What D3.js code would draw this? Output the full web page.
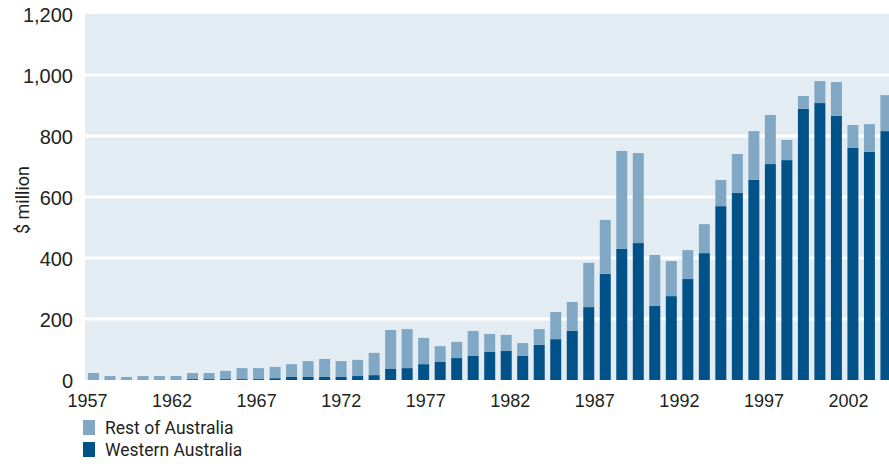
<!DOCTYPE html>
<html>
<head>
<meta charset="utf-8">
<script src="https://cdn.jsdelivr.net/npm/d3@7"></script>
<style>
  body { margin: 0; background: #fff; }
  svg { display: block; font-family: Roboto, "Liberation Sans", sans-serif; }
</style>
</head>
<body>
<svg id="chart" width="889" height="464"></svg>
<script>
// years on the x axis
var years = d3.range(1957, 2006);
var tickYears = [1957, 1962, 1967, 1972, 1977, 1982, 1987, 1992, 1997, 2002];
var yTicks = [0, 200, 400, 600, 800, 1000, 1200];

// $ million
var westernAustralia = [0, 0, 0, 0, 0, 0, 3, 3, 3, 3, 3, 6, 10, 10, 10, 10, 13, 16,
  36, 39, 52, 59, 72, 79, 92, 95, 79, 115, 134, 161, 239, 348, 430,
  449, 243, 275, 331, 416, 570, 613, 656, 708, 721, 889, 908, 866, 761, 748, 816];
var restOfAustralia = [23, 13, 10, 13, 13, 13, 20, 20, 27, 36, 36, 37, 42, 52, 59, 52, 53, 73,
  128, 128, 86, 52, 53, 82, 59, 53, 42, 52, 89, 95, 145, 177, 321,
  295, 167, 115, 95, 95, 86, 128, 160, 161, 66, 42, 72, 111, 75, 91, 118];

var seriesNames = ["Rest of Australia", "Western Australia"];
var colors = { "Western Australia": "#005289", "Rest of Australia": "#80a8c4" };

var svg = d3.select("#chart");
// note: "top" is taken by window.top, so use plot* names
var plotLeft = 85, plotTop = 14, plotBottom = 380, plotRight = 889;

var x = d3.scaleBand().domain(years).range([plotLeft, 894.4]).paddingInner(0.334).paddingOuter(0.18);
var xLabel = d3.scaleLinear().domain([1957, 2002]).range([87, 848]);
var y = d3.scaleLinear().domain([0, 1200]).range([plotBottom, plotTop]);

// plot background
svg.append("rect")
  .attr("x", plotLeft).attr("y", plotTop)
  .attr("width", plotRight - plotLeft).attr("height", plotBottom - plotTop)
  .style("fill", "#e4ecf3");

// white gridlines
svg.append("g")
  .selectAll("line")
  .data(yTicks.filter(function(d) { return d > 0 && d < 1200; }))
  .enter()
  .append("line")
  .attr("x1", plotLeft).attr("x2", plotRight)
  .attr("y1", function(d) { return y(d); })
  .attr("y2", function(d) { return y(d); })
  .style("stroke", "#fff")
  .style("stroke-width", 3);

// stack the two series
var rows = years.map(function(yr, i) {
  return { year: yr, "Western Australia": westernAustralia[i], "Rest of Australia": restOfAustralia[i] };
});
var stack = d3.stack().keys(["Western Australia", "Rest of Australia"])(rows);

svg.append("g")
  .selectAll("g")
  .data(stack)
  .enter()
  .append("g")
  .style("fill", function(d) { return colors[d.key]; })
  .selectAll("rect")
  .data(function(d) { return d; })
  .enter()
  .append("rect")
  .attr("x", function(d) { return x(d.data.year); })
  .attr("width", x.bandwidth())
  .attr("y", function(d) { return y(d[1]); })
  .attr("height", function(d) { return y(d[0]) - y(d[1]); });

// y axis labels
var yAxis = svg.append("g")
  .attr("transform", "translate(" + (plotLeft - 12) + ",0)")
  .call(d3.axisLeft(y).tickValues(yTicks).tickFormat(d3.format(",")).tickSize(0).tickPadding(0));
yAxis.select(".domain").remove();
yAxis.selectAll("text")
  .attr("dy", "0.36em")
  .style("font-size", "20px")
  .style("fill", "#231f20");

// x axis labels
var xAxis = svg.append("g")
  .attr("transform", "translate(0," + plotBottom + ")")
  .call(d3.axisBottom(xLabel).tickValues(tickYears).tickFormat(d3.format("d")).tickSize(0).tickPadding(0));
xAxis.select(".domain").remove();
xAxis.selectAll("text")
  .attr("y", 27)
  .attr("dy", 0)
  .style("font-size", "18px")
  .style("fill", "#231f20");

// axis title
svg.append("text")
  .attr("transform", "translate(29,200) rotate(-90)")
  .attr("text-anchor", "middle")
  .style("font-size", "18px")
  .style("fill", "#231f20")
  .text("$ million");

// legend
var legend = svg.append("g")
  .selectAll("g")
  .data(seriesNames)
  .enter()
  .append("g")
  .attr("transform", function(d, i) { return "translate(83," + (420 + i * 22) + ")"; });

legend.append("rect")
  .attr("width", 12).attr("height", 15)
  .style("fill", function(d) { return colors[d]; });

legend.append("text")
  .attr("x", 22).attr("y", 14)
  .style("font-size", "17.5px")
  .style("fill", "#231f20")
  .text(function(d) { return d; });
</script>
</body>
</html>
